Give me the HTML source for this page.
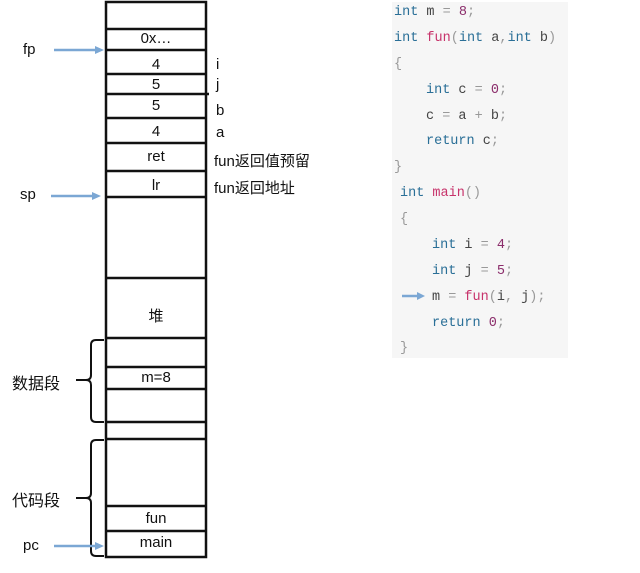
<!DOCTYPE html>
<html><head><meta charset="utf-8"><style>
body{margin:0;width:640px;height:573px;background:#fff;position:relative;overflow:hidden;font-family:"Liberation Sans","Noto Sans CJK SC",sans-serif;}
.a{position:absolute;white-space:nowrap;}
.lbl{font-size:15px;color:#111;}
.c{position:absolute;font-family:"Liberation Mono","DejaVu Sans Mono",monospace;font-size:13.5px;color:#444;white-space:pre;line-height:16px;}
.k{color:#2a6f97}.f{color:#c7336b}.n{color:#8b2d6b}.p{color:#999}
</style></head><body>
<div class="a" style="left:392px;top:2px;width:176px;height:356px;background:#f6f6f6"></div>
<svg width="640" height="573" style="position:absolute;left:0;top:0">
<g stroke="#111" stroke-width="2.5" fill="none">
<rect x="106" y="2" width="100" height="555"/>
<line x1="106" y1="29" x2="206" y2="29"/>
<line x1="106" y1="50" x2="206" y2="50"/>
<line x1="106" y1="74" x2="206" y2="74"/>
<line x1="106" y1="94" x2="209" y2="94"/>
<line x1="106" y1="118" x2="206" y2="118"/>
<line x1="106" y1="143" x2="206" y2="143"/>
<line x1="106" y1="171" x2="206" y2="171"/>
<line x1="106" y1="197" x2="206" y2="197"/>
<line x1="106" y1="278" x2="206" y2="278"/>
<line x1="106" y1="338" x2="206" y2="338"/>
<line x1="106" y1="367" x2="206" y2="367"/>
<line x1="106" y1="389" x2="206" y2="389"/>
<line x1="106" y1="422" x2="206" y2="422"/>
<line x1="106" y1="439" x2="206" y2="439"/>
<line x1="106" y1="506" x2="206" y2="506"/>
<line x1="106" y1="531" x2="206" y2="531"/>
<path d="M104 340 H96 Q91 340 91 345 V375 Q91 380 86 380 H76 M86 380 Q91 380 91 385 V417 Q91 422 96 422 H104" stroke-width="2"/>
<path d="M104 440 H96 Q91 440 91 445 V493 Q91 498 86 498 H76 M86 498 Q91 498 91 503 V551 Q91 556 96 556 H104" stroke-width="2"/>
</g>
<g stroke="#7ba7d4" stroke-width="2.5" fill="#7ba7d4">
<line x1="54" y1="50" x2="97" y2="50"/><polygon points="104,50 95,46 95,54" stroke="none"/>
<line x1="51" y1="196" x2="94" y2="196"/><polygon points="101,196 92,192 92,200" stroke="none"/>
<line x1="54" y1="546" x2="97" y2="546"/><polygon points="104,546 95,542 95,550" stroke="none"/>
<line x1="402" y1="296" x2="418" y2="296"/><polygon points="425,296 417,292 417,300" stroke="none"/>
</g>
</svg>
<div class="a lbl" style="left:23px;top:41px">fp</div>
<div class="a lbl" style="left:20px;top:186px">sp</div>
<div class="a lbl" style="left:23px;top:537px">pc</div>
<div class="a lbl" style="left:12px;top:370px;font-size:16px">数据段</div>
<div class="a lbl" style="left:12px;top:487px;font-size:16px">代码段</div>
<div class="a lbl" style="left:106px;width:100px;text-align:center;top:30px">0x…</div>
<div class="a lbl" style="left:106px;width:100px;text-align:center;top:56px">4</div>
<div class="a lbl" style="left:106px;width:100px;text-align:center;top:76px">5</div>
<div class="a lbl" style="left:106px;width:100px;text-align:center;top:97px">5</div>
<div class="a lbl" style="left:106px;width:100px;text-align:center;top:123px">4</div>
<div class="a lbl" style="left:106px;width:100px;text-align:center;top:148px">ret</div>
<div class="a lbl" style="left:106px;width:100px;text-align:center;top:177px">lr</div>
<div class="a lbl" style="left:106px;width:100px;text-align:center;top:305px">堆</div>
<div class="a lbl" style="left:106px;width:100px;text-align:center;top:369px">m=8</div>
<div class="a lbl" style="left:106px;width:100px;text-align:center;top:510px">fun</div>
<div class="a lbl" style="left:106px;width:100px;text-align:center;top:534px">main</div>
<div class="a lbl" style="left:216px;top:56px">i</div>
<div class="a lbl" style="left:216px;top:76px">j</div>
<div class="a lbl" style="left:216px;top:102px">b</div>
<div class="a lbl" style="left:216px;top:124px">a</div>
<div class="a lbl" style="left:214px;top:150px">fun返回值预留</div>
<div class="a lbl" style="left:214px;top:177px">fun返回地址</div>
<div class="c" style="left:394px;top:5px"><span class="k">int</span> m <span class="p">=</span> <span class="n">8</span><span class="p">;</span></div>
<div class="c" style="left:394px;top:31px"><span class="k">int</span> <span class="f">fun</span><span class="p">(</span><span class="k">int</span> a<span class="p">,</span><span class="k">int</span> b<span class="p">)</span></div>
<div class="c" style="left:394px;top:57px"><span class="p">{</span></div>
<div class="c" style="left:426px;top:83px"><span class="k">int</span> c <span class="p">=</span> <span class="n">0</span><span class="p">;</span></div>
<div class="c" style="left:426px;top:109px">c <span class="p">=</span> a <span class="p">+</span> b<span class="p">;</span></div>
<div class="c" style="left:426px;top:134px"><span class="k">return</span> c<span class="p">;</span></div>
<div class="c" style="left:394px;top:160px"><span class="p">}</span></div>
<div class="c" style="left:400px;top:186px"><span class="k">int</span> <span class="f">main</span><span class="p">()</span></div>
<div class="c" style="left:400px;top:212px"><span class="p">{</span></div>
<div class="c" style="left:432px;top:238px"><span class="k">int</span> i <span class="p">=</span> <span class="n">4</span><span class="p">;</span></div>
<div class="c" style="left:432px;top:264px"><span class="k">int</span> j <span class="p">=</span> <span class="n">5</span><span class="p">;</span></div>
<div class="c" style="left:432px;top:290px">m <span class="p">=</span> <span class="f">fun</span><span class="p">(</span>i<span class="p">,</span> j<span class="p">);</span></div>
<div class="c" style="left:432px;top:316px"><span class="k">return</span> <span class="n">0</span><span class="p">;</span></div>
<div class="c" style="left:400px;top:341px"><span class="p">}</span></div>
</body></html>
